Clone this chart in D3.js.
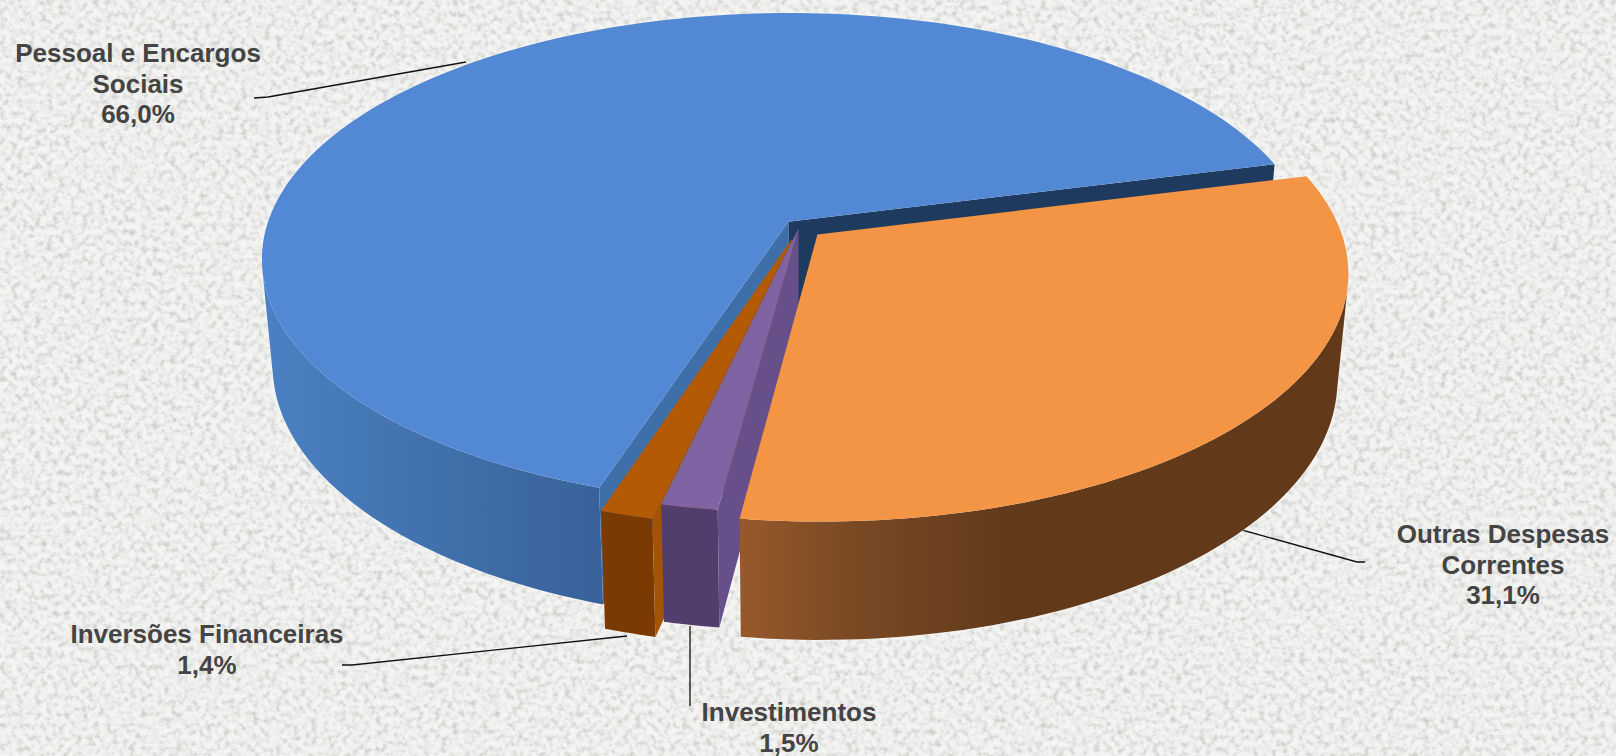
<!DOCTYPE html>
<html>
<head>
<meta charset="utf-8">
<script src="https://cdn.jsdelivr.net/npm/d3@7"></script>
<style>
  html, body { margin: 0; padding: 0; background: #efefed; overflow: hidden; }
  svg { display: block; }
  text { font-family: "Liberation Sans", Arial, sans-serif; font-weight: 700; fill: #444; }
  .pie { filter: drop-shadow(0 0 1.5px rgba(255, 255, 255, 0.9)); }
</style>
</head>
<body>
<svg id="chart" width="1616" height="756"></svg>
<script>
const categories = ["Pessoal e Encargos Sociais", "Outras Despesas Correntes", "Investimentos", "Inversões Financeiras"];
const values = [66.0, 31.1, 1.5, 1.4];
const valueLabels = ["66,0%", "31,1%", "1,5%", "1,4%"];

const width = 1616;
const height = 756;

// pie geometry, the 3D look is done with a small perspective projection
const cx = 799, cy = 227;
const radius = 522;
const tilt = 0.4626;
const persp = 0.15;
const depth = 105;
const taper = 0.02;
const startAngle = 198 * Math.PI / 180;

// one entry per slice, same order as categories
const explode = [0.03, 0.047, 0.005, 0.05];
const topColors = ["#5389d4", "#f49546", "#8063a3", "#b45a04"];
const wallColors = ["url(#wallBlue)", "url(#wallOrange)", "#523e6c", "#7b3a02"];
// radial faces, only the ones the viewer can see have a colour
const startFace = ["#3f6fa8", "none", "#675089", "#a45304"];
const endFace = ["#1f3a5f", "none", "none", "none"];

const labelLines = [
  ["Pessoal e Encargos", "Sociais"],
  ["Outras Despesas", "Correntes"],
  ["Investimentos"],
  ["Inversões Financeiras"]
];
const labelX = [138, 1503, 789, 207];
const labelY = [62, 543, 721, 643];
const lineStep = 30.5;
const leaders = [
  [[254, 98], [268, 97], [466, 62]],
  [[1365, 562], [1357, 562], [1242, 530]],
  [[690, 626], [690, 706]],
  [[342, 665], [352, 665], [627, 636]]
];

const svg = d3.select("#chart");
const defs = svg.append("defs");

// paper texture of the background
const paper = defs.append("filter").attr("id", "paper")
  .attr("x", 0).attr("y", 0).attr("width", "100%").attr("height", "100%")
  .attr("color-interpolation-filters", "sRGB");
paper.append("feTurbulence")
  .attr("type", "fractalNoise")
  .attr("baseFrequency", 0.17)
  .attr("numOctaves", 3)
  .attr("seed", 7)
  .attr("result", "noise");
paper.append("feColorMatrix")
  .attr("in", "noise")
  .attr("type", "matrix")
  .attr("values", "0 0 0 0 0.72  0 0 0 0 0.72  0 0 0 0 0.71  1 0 0 0 0");
paper.append("feComponentTransfer").append("feFuncA")
  .attr("type", "table")
  .attr("tableValues", "0 0 0 0.04 0.2 0.45 0.65 0.8");

function wallGradient(id, x1, x2, stops) {
  const g = defs.append("linearGradient").attr("id", id)
    .attr("gradientUnits", "userSpaceOnUse")
    .attr("x1", x1).attr("x2", x2).attr("y1", 0).attr("y2", 0);
  stops.forEach(s => g.append("stop").attr("offset", s[0]).attr("stop-color", s[1]));
}
wallGradient("wallBlue", 263, 603, [[0, "#4b81c4"], [0.45, "#4273ae"], [1, "#38619a"]]);
wallGradient("wallOrange", 740, 1010, [[0, "#97592b"], [0.4, "#7a4a24"], [1, "#623a1a"]]);

svg.append("rect").attr("width", width).attr("height", height).attr("fill", "#f4f4f2");
svg.append("rect").attr("width", width).attr("height", height).attr("fill", "#c6c6c4")
  .attr("filter", "url(#paper)");

// leader lines sit behind the pie
const leaderLine = d3.line();
svg.append("g").selectAll("path").data(leaders).join("path")
  .attr("d", leaderLine)
  .attr("fill", "none")
  .attr("stroke", "#111")
  .attr("stroke-width", 1.3);

const pie = d3.pie().sort(null).value(d => d)
  .startAngle(startAngle).endAngle(startAngle + 2 * Math.PI);
const arcs = pie(values);

// u to the right, v towards the viewer, z 0 on the top face and 1 on the bottom
function project(u, v, z) {
  const s = 1 / (1 - persp * v);
  const shrink = 1 - taper * z;
  return [
    cx + radius * u * s * shrink,
    cy + radius * tilt * v * s * shrink + depth * z * s
  ];
}

function slicePoint(d, i, angle, z, onRim) {
  const mid = (d.startAngle + d.endAngle) / 2;
  const ou = explode[i] * Math.sin(mid);
  const ov = -explode[i] * Math.cos(mid);
  const r = onRim ? 1 : 0;
  return project(ou + r * Math.sin(angle), ov - r * Math.cos(angle), z);
}

function rim(d, i, z) {
  const n = Math.max(6, Math.ceil((d.endAngle - d.startAngle) * 40));
  return d3.range(n + 1).map(k => {
    const angle = d.startAngle + (d.endAngle - d.startAngle) * k / n;
    return slicePoint(d, i, angle, z, true);
  });
}

const polygon = d3.line().curve(d3.curveLinearClosed);

function edgeFace(d, i, angle) {
  return polygon([
    slicePoint(d, i, angle, 0, false),
    slicePoint(d, i, angle, 0, true),
    slicePoint(d, i, angle, 1, true),
    slicePoint(d, i, angle, 1, false)
  ]);
}

// the outer wall is one path of small quads, so the silhouette at the far left
// and far right drops straight down. Quads facing away are left out.
function wallPath(i) {
  const top = rim(arcs[i], i, 0);
  const bottom = rim(arcs[i], i, 1);
  return d3.range(top.length - 1)
    .map(k => [top[k], top[k + 1], bottom[k + 1], bottom[k]])
    .filter(q => d3.polygonArea(q) > 0)
    .map(q => polygon(q))
    .join("");
}

// painter's order: blue at the back, then the small slices, orange on top
const drawOrder = [0, 3, 2, 1];
const slices = svg.append("g").attr("class", "pie").selectAll("g").data(drawOrder).join("g");

slices.append("path")
  .attr("d", i => wallPath(i))
  .attr("fill", i => wallColors[i]);
slices.append("path")
  .attr("d", i => edgeFace(arcs[i], i, arcs[i].endAngle))
  .attr("fill", i => endFace[i]);
slices.append("path")
  .attr("d", i => edgeFace(arcs[i], i, arcs[i].startAngle))
  .attr("fill", i => startFace[i]);
slices.append("path")
  .attr("d", i => polygon([slicePoint(arcs[i], i, 0, 0, false)].concat(rim(arcs[i], i, 0))))
  .attr("fill", i => topColors[i]);

// labels
const labels = svg.append("g").selectAll("text").data(categories).join("text")
  .attr("text-anchor", "middle")
  .attr("font-size", 26);
labels.each(function (d, i) {
  const lines = labelLines[i].concat(valueLabels[i]);
  d3.select(this).selectAll("tspan").data(lines).join("tspan")
    .attr("x", labelX[i])
    .attr("y", (t, k) => labelY[i] + k * lineStep)
    .text(t => t);
});
</script>
</body>
</html>
